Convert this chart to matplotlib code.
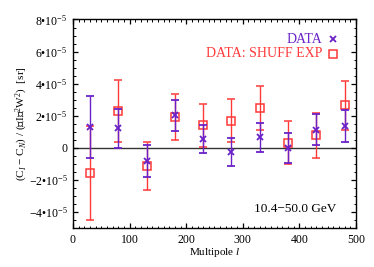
import numpy as np
import matplotlib
matplotlib.use("Agg")
import matplotlib.pyplot as plt
from matplotlib.ticker import MultipleLocator, FuncFormatter

plt.rcParams["font.family"] = ["Liberation Serif", "DejaVu Serif"]
plt.rcParams["mathtext.fontset"] = "custom"
plt.rcParams["mathtext.rm"] = "Liberation Serif"
plt.rcParams["mathtext.it"] = "Liberation Serif:italic"

# multipole bins
ell = [30, 80, 130, 180, 230, 280, 330, 380, 430, 480]

# DATA (purple crosses), units of 1e-5 sr
data = [1.30, 1.21, -0.82, 2.02, 0.57, -0.27, 0.65, -0.02, 1.13, 1.38]
data_err = [1.96, 1.21, 1.00, 0.95, 0.88, 0.86, 0.89, 0.95, 0.97, 0.99]

# DATA: SHUFF EXP (red squares)
shuff = [-1.57, 2.31, -1.11, 1.91, 1.40, 1.68, 2.47, 0.33, 0.77, 2.64]
shuff_err = [2.90, 1.93, 1.50, 1.42, 1.36, 1.34, 1.36, 1.37, 1.43, 1.50]

purple = "#6a22c8"
red = "#ff3838"
scale = 1e-5

fig = plt.figure(figsize=(3.74, 2.67), dpi=100)
ax = fig.add_axes([0.195, 0.146, 0.757, 0.781])

ax.axhline(0, color="#333333", lw=1.0, zorder=1)

ax.errorbar(ell, np.array(shuff) * scale, yerr=np.array(shuff_err) * scale,
            fmt="s", ms=5.8, mfc="none", mec=red, mew=1.1, ecolor=red,
            elinewidth=1.0, capsize=2.8, capthick=1.0, zorder=2)
ax.errorbar(ell, np.array(data) * scale, yerr=np.array(data_err) * scale,
            fmt="x", ms=5, mec=purple, mew=1.3, ecolor=purple,
            elinewidth=1.0, capsize=2.8, capthick=1.0, zorder=3)

ax.set_xlim(0, 500)
ax.set_ylim(-5e-5, 8e-5)
ax.xaxis.set_major_locator(MultipleLocator(100))
ax.xaxis.set_minor_locator(MultipleLocator(10))
ax.yaxis.set_major_locator(MultipleLocator(2e-5))
ax.yaxis.set_minor_locator(MultipleLocator(0.5e-5))


def yfmt(v, pos):
    n = int(round(v / 1e-5))
    if n == 0:
        return "0"
    sign = "\u2212" if n < 0 else ""
    return sign + str(abs(n)) + "\u2022" + "10$^{-5}$"


ax.yaxis.set_major_formatter(FuncFormatter(yfmt))

ax.tick_params(which="both", direction="in", top=True, right=True,
               labelsize=8.5, color="black")
ax.tick_params(which="major", length=3.8, width=0.9, pad=4)
ax.tick_params(which="minor", length=1.8, width=0.7)
for s in ax.spines.values():
    s.set_linewidth(1.0)

ax.set_xlabel("Multipole $\\mathit{l}$", fontsize=8, labelpad=0.5)
ax.set_ylabel("(C$_I$ \u2212 C$_N$) / (\u27e8I\u27e9$^2$W$^2$)  [sr]",
              fontsize=8)
ax.yaxis.set_label_coords(-0.15, 0.5)

# legend as coloured text with markers
ax.text(0.88, 0.906, "DATA", color=purple, fontsize=10, ha="right", va="center",
        transform=ax.transAxes)
ax.plot([0.919], [0.906], "x", color=purple, ms=5, mew=1.3, transform=ax.transAxes)
ax.text(0.88, 0.835, "DATA: SHUFF EXP", color=red, fontsize=10, ha="right",
        va="center", transform=ax.transAxes)
ax.plot([0.919], [0.835], "s", mfc="none", mec=red, ms=5.5, mew=1.1,
        transform=ax.transAxes)

ax.text(0.93, 0.09, "10.4\u221250.0 GeV", fontsize=9.5, ha="right", va="center",
        transform=ax.transAxes)

fig.savefig("out.png", dpi=100)
